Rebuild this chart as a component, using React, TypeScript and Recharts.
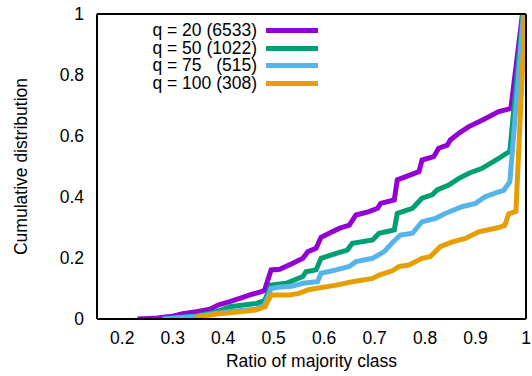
import { LineChart, Line, XAxis, YAxis, Legend } from 'recharts';

const FONT = '"Liberation Sans", Arial, Helvetica, sans-serif';

type Pt = { x: number; y: number };
const pts = (rows: number[][]): Pt[] => rows.map(([x, y]) => ({ x, y }));

const xTicks = [0.2, 0.3, 0.4, 0.5, 0.6, 0.7, 0.8, 0.9, 1];
const yTicks = [0, 0.2, 0.4, 0.6, 0.8, 1];

const q20 = pts([
  [0.23, 0], [0.27, 0.003], [0.3, 0.009], [0.32, 0.017], [0.347, 0.024],
  [0.374, 0.032], [0.39, 0.046], [0.413, 0.057], [0.433, 0.068], [0.453, 0.079],
  [0.476, 0.09], [0.482, 0.094], [0.495, 0.161], [0.512, 0.163], [0.538, 0.183],
  [0.558, 0.199], [0.568, 0.221], [0.584, 0.232], [0.594, 0.268], [0.61, 0.281],
  [0.63, 0.297], [0.65, 0.308], [0.663, 0.341], [0.689, 0.352], [0.706, 0.363],
  [0.712, 0.379], [0.739, 0.39], [0.745, 0.456], [0.762, 0.467], [0.788, 0.483],
  [0.794, 0.521], [0.817, 0.532], [0.827, 0.56], [0.844, 0.57], [0.85, 0.587],
  [0.867, 0.609], [0.886, 0.63], [0.913, 0.652], [0.946, 0.68], [0.97, 0.69],
  [0.993, 1],
]);

const q50 = pts([
  [0.28, 0], [0.347, 0.01], [0.387, 0.024], [0.413, 0.04], [0.466, 0.051],
  [0.482, 0.06], [0.495, 0.111], [0.525, 0.117], [0.558, 0.139], [0.564, 0.155],
  [0.584, 0.161], [0.594, 0.199], [0.624, 0.215], [0.646, 0.226], [0.656, 0.248],
  [0.696, 0.259], [0.709, 0.281], [0.739, 0.292], [0.745, 0.346], [0.775, 0.363],
  [0.794, 0.396], [0.814, 0.407], [0.824, 0.423], [0.847, 0.439], [0.867, 0.461],
  [0.887, 0.478], [0.913, 0.494], [0.946, 0.527], [0.968, 0.55], [0.994, 1],
]);

const q75 = pts([
  [0.28, 0], [0.347, 0.008], [0.387, 0.019], [0.43, 0.027], [0.466, 0.032],
  [0.482, 0.045], [0.495, 0.1], [0.51, 0.104], [0.538, 0.108], [0.558, 0.117],
  [0.587, 0.122], [0.594, 0.15], [0.624, 0.161], [0.65, 0.172], [0.663, 0.188],
  [0.696, 0.199], [0.719, 0.221], [0.735, 0.25], [0.751, 0.275], [0.775, 0.281],
  [0.794, 0.319], [0.821, 0.33], [0.84, 0.346], [0.873, 0.368], [0.9, 0.379],
  [0.919, 0.401], [0.946, 0.417], [0.956, 0.422], [0.968, 0.45], [0.995, 1],
]);

const q100 = pts([
  [0.344, 0.005], [0.387, 0.016], [0.433, 0.024], [0.466, 0.03], [0.483, 0.04],
  [0.495, 0.079], [0.531, 0.079], [0.55, 0.084], [0.571, 0.097], [0.624, 0.111],
  [0.656, 0.122], [0.696, 0.133], [0.709, 0.144], [0.735, 0.158], [0.748, 0.172],
  [0.768, 0.177], [0.794, 0.199], [0.81, 0.204], [0.83, 0.237], [0.854, 0.253],
  [0.88, 0.264], [0.906, 0.286], [0.946, 0.3], [0.958, 0.307], [0.966, 0.345],
  [0.98, 0.353], [0.998, 1],
]);

const series = [
  { name: 'q = 20 (6533)', data: q20, color: '#9400D3' },
  { name: 'q = 50 (1022)', data: q50, color: '#009E73' },
  { name: 'q = 75   (515)', data: q75, color: '#56B4E9' },
  { name: 'q = 100 (308)', data: q100, color: '#E69F00' },
];

const tickStyle = { fill: '#000', fontSize: 17.5, fontFamily: FONT };
const axisStroke = { stroke: '#000', strokeWidth: 2 };

// gnuplot-style key: label right-aligned, sample line after it
function GnuLegend() {
  return (
    <div style={{ fontFamily: FONT, fontSize: 17.5, color: '#000' }}>
      {series.map((s) => (
        <div key={s.name} style={{ display: 'flex', alignItems: 'center', height: 17.5 }}>
          <span style={{ width: 120, textAlign: 'right', whiteSpace: 'pre', lineHeight: '17px' }}>
            {s.name}
          </span>
          <span
            style={{ marginLeft: 9, width: 52, height: 5, background: s.color, display: 'inline-block' }}
          />
        </div>
      ))}
    </div>
  );
}

function YLabel({ viewBox }: any) {
  const cx = viewBox.x + 27;
  const cy = viewBox.y + viewBox.height / 2;
  return (
    <text
      x={cx}
      y={cy}
      transform={`rotate(-90, ${cx}, ${cy})`}
      textAnchor='middle'
      fill='#000'
      fontSize={17.5}
      fontFamily={FONT}
    >
      Cumulative distribution
    </text>
  );
}

export default function App() {
  return (
    <div style={{ position: 'absolute', left: 0, top: 0, width: 532, height: 376, background: '#fff' }}>
      <LineChart width={532} height={376} margin={{ top: 14, right: 6, bottom: 0, left: 0 }}>
        <XAxis
          xAxisId='x'
          dataKey='x'
          type='number'
          domain={[0.15, 1]}
          allowDataOverflow
          ticks={xTicks}
          height={57}
          tick={tickStyle}
          tickLine={false}
          tickSize={0}
          tickMargin={13}
          axisLine={axisStroke}
          label={{
            value: 'Ratio of majority class',
            position: 'insideBottom',
            offset: 9,
            fill: '#000',
            fontSize: 17.5,
            fontFamily: FONT,
          }}
        />
        <XAxis
          xAxisId='xin'
          type='number'
          domain={[0.15, 1]}
          allowDataOverflow
          ticks={xTicks}
          mirror
          tick={false}
          tickSize={7}
          tickLine={axisStroke}
          axisLine={false}
        />
        <XAxis
          xAxisId='xtop'
          orientation='top'
          type='number'
          domain={[0.15, 1]}
          allowDataOverflow
          ticks={xTicks}
          mirror
          tick={false}
          tickSize={7}
          tickLine={axisStroke}
          axisLine={axisStroke}
        />
        <YAxis
          yAxisId='y'
          type='number'
          domain={[0, 1]}
          allowDataOverflow
          ticks={yTicks}
          width={97}
          tick={tickStyle}
          tickLine={false}
          tickSize={0}
          tickMargin={13}
          axisLine={axisStroke}
          label={<YLabel />}
        />
        <YAxis
          yAxisId='yin'
          type='number'
          domain={[0, 1]}
          allowDataOverflow
          ticks={yTicks}
          mirror
          tick={false}
          tickSize={7}
          tickLine={axisStroke}
          axisLine={false}
        />
        <YAxis
          yAxisId='yr'
          orientation='right'
          type='number'
          domain={[0, 1]}
          allowDataOverflow
          ticks={yTicks}
          mirror
          tick={false}
          tickSize={7}
          tickLine={axisStroke}
          axisLine={axisStroke}
        />
        <Legend
          layout='vertical'
          align='center'
          verticalAlign='middle'
          content={<GnuLegend />}
          wrapperStyle={{ left: 137, top: 22, width: 190, height: 72 }}
        />
        {series.map((s) => (
          <Line
            key={s.name}
            xAxisId='x'
            yAxisId='y'
            data={s.data}
            dataKey='y'
            name={s.name}
            type='linear'
            stroke={s.color}
            strokeWidth={5}
            dot={false}
            activeDot={false}
            isAnimationActive={false}
          />
        ))}
      </LineChart>
    </div>
  );
}
